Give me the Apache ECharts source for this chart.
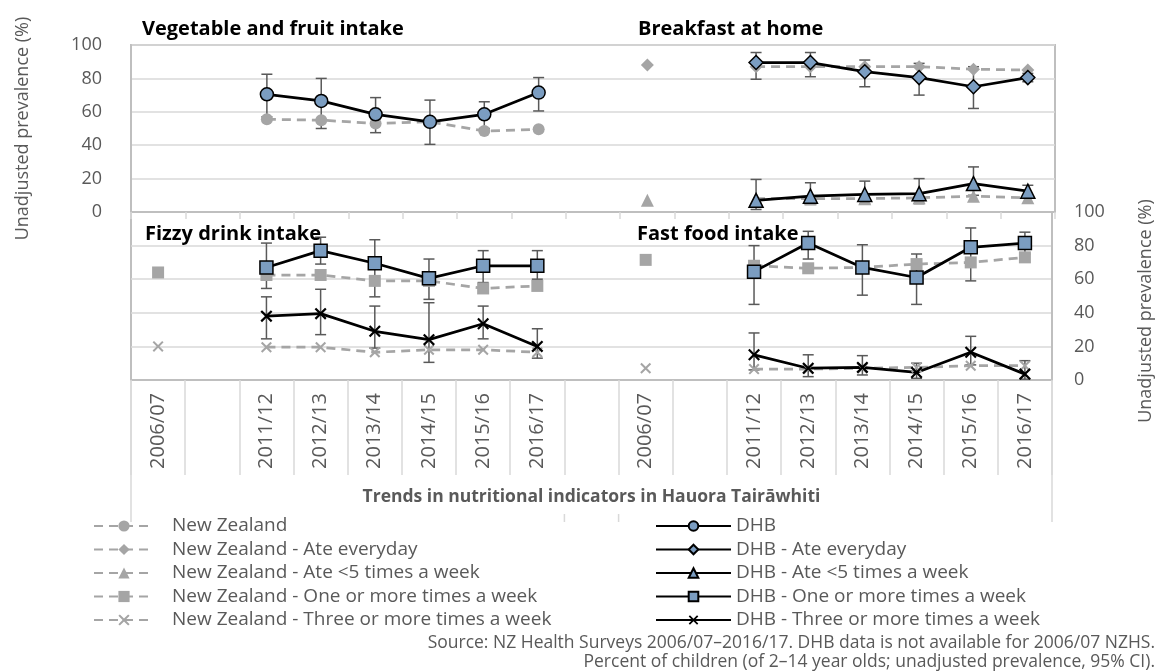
<!DOCTYPE html>
<html><head><meta charset="utf-8">
<script src="https://cdn.jsdelivr.net/npm/echarts@6/dist/echarts.min.js"></script>
<style>html,body{margin:0;padding:0;background:#fff}#c{width:1163px;height:671px}</style>
</head><body><div id="c"></div><script>
// ---- categories (17 slots: left panel, gap, right panel) ----
const categories = ['2006/07','','2011/12','2012/13','2013/14','2014/15','2015/16','2016/17','','2006/07','','2011/12','2012/13','2013/14','2014/15','2015/16','2016/17'];
const yTicks = [0, 20, 40, 60, 80, 100];
// panel values, order: 2006/07, 2011/12, 2012/13, 2013/14, 2014/15, 2015/16, 2016/17
// Vegetable and fruit intake
const vegNZ      = [null, 55.5, 55, 53, 54, 48.5, 49.5];
const vegDHB     = [null, 70.5, 66.5, 58.5, 54, 58.5, 71.5];
const vegDHBLow  = [null, 57, 50, 47.5, 40.5, 50, 60.5];
const vegDHBHigh = [null, 82.5, 80, 68.5, 67, 66, 80.5];
// Breakfast at home
const brkNZEvery      = [88, 87, 87, 87, 87, 85.5, 85];
const brkDHBEvery     = [null, 89.5, 89.5, 84, 80.5, 75, 80.5];
const brkDHBEveryLow  = [null, 79.5, 81, 75, 70, 62, 78];
const brkDHBEveryHigh = [null, 95.5, 95.5, 91, 89, 87, 83];
const brkNZLess5      = [7, 8, 8, 8, 8.5, 9.5, 8.5];
const brkDHBLess5     = [null, 7, 9.5, 10.5, 11, 17, 12.5];
const brkDHBLess5Low  = [null, 1.5, 4.5, 5, 5, 10, 8.5];
const brkDHBLess5High = [null, 19.5, 17.5, 18.5, 20, 27, 16];
// Fizzy drink intake
const fizNZOne       = [64, 62.5, 62.5, 59, 59, 54.5, 56];
const fizDHBOne      = [null, 67, 77, 69.5, 60.5, 68, 68];
const fizDHBOneLow   = [null, 54.5, 69, 49.5, 48, 58, 60];
const fizDHBOneHigh  = [null, 81.5, 85, 83.5, 72, 77, 77];
const fizNZThree     = [20, 19.5, 19.5, 16.5, 18, 18, 16.5];
const fizDHBThree    = [null, 38, 39.5, 29, 24, 33.5, 20];
const fizDHBThreeLow = [null, 24.5, 27, 19, 10.5, 24.5, 13];
const fizDHBThreeHigh= [null, 49.5, 54, 44, 46, 44, 30.5];
// Fast food intake
const fstNZOne       = [71.5, 68, 66.5, 67, 69, 70, 73];
const fstDHBOne      = [null, 64.5, 81.5, 67, 61, 79, 81.5];
const fstDHBOneLow   = [null, 45, 72, 50.5, 45, 59, 75];
const fstDHBOneHigh  = [null, 80, 88.5, 80.5, 75, 90.5, 88];
const fstNZThree     = [7, 6.5, 6.5, 7, 7.5, 8.5, 8.5];
const fstDHBThree    = [null, 15, 7, 7.5, 4.5, 16.5, 3.5];
const fstDHBThreeLow = [null, 6, 2, 3, 1, 9, 0.5];
const fstDHBThreeHigh= [null, 28, 15, 14.5, 10, 26, 11.5];

const leftIdx = [0, 2, 3, 4, 5, 6, 7];
const rightIdx = [9, 11, 12, 13, 14, 15, 16];
function place(l, r) {
  const a = new Array(categories.length).fill(null);
  if (l) l.forEach((v, i) => { a[leftIdx[i]] = v; });
  if (r) r.forEach((v, i) => { a[rightIdx[i]] = v; });
  return a;
}
function errs(lLow, lHigh, rLow, rHigh) {
  const out = [];
  if (lLow) lLow.forEach((v, i) => { if (v != null) out.push([leftIdx[i], v, lHigh[i]]); });
  if (rLow) rLow.forEach((v, i) => { if (v != null) out.push([rightIdx[i], v, rHigh[i]]); });
  return out;
}

const FONT = 'Open Sans';
const GRAY = '#595959';
const NZC = '#a5a5a5';
const DHBFILL = '#7b9dc1';
const XPATH = 'path://M0,1.3 L1.3,0 L5,3.7 L8.7,0 L10,1.3 L6.3,5 L10,8.7 L8.7,10 L5,6.3 L1.3,10 L0,8.7 L3.7,5 Z';

function errSeries(gi, data) {
  return {
    type: 'custom', xAxisIndex: gi, yAxisIndex: gi, data: data, silent: true,
    encode: { x: 0, y: [1, 2] },
    renderItem: function (params, api) {
      const x = api.value(0);
      const lo = api.coord([x, api.value(1)]);
      const hi = api.coord([x, api.value(2)]);
      const cap = 5.5;
      const st = { stroke: GRAY, lineWidth: 1.5 };
      return { type: 'group', children: [
        { type: 'line', shape: { x1: lo[0], y1: lo[1], x2: hi[0], y2: hi[1] }, style: st },
        { type: 'line', shape: { x1: lo[0] - cap, y1: lo[1], x2: lo[0] + cap, y2: lo[1] }, style: st },
        { type: 'line', shape: { x1: hi[0] - cap, y1: hi[1], x2: hi[0] + cap, y2: hi[1] }, style: st }
      ]};
    }
  };
}
function nzSeries(name, gi, data, symbol, size) {
  return {
    name: name, type: 'line', xAxisIndex: gi, yAxisIndex: gi, data: data,
    symbol: symbol, symbolSize: size, showSymbol: true, connectNulls: false,
    lineStyle: { color: NZC, width: 2.75, type: [9, 6] },
    itemStyle: { color: NZC, borderWidth: 0 }
  };
}
function dhbSeries(name, gi, data, symbol, size, isX) {
  return {
    name: name, type: 'line', xAxisIndex: gi, yAxisIndex: gi, data: data,
    symbol: symbol, symbolSize: size, showSymbol: true, connectNulls: false,
    lineStyle: { color: '#000', width: 2.75 },
    itemStyle: isX ? { color: '#000', borderWidth: 0 } : { color: DHBFILL, borderColor: '#000', borderWidth: 1.5 }
  };
}

const series = [
  errSeries(0, errs(vegDHBLow, vegDHBHigh, null, null)),
  errSeries(0, errs(null, null, brkDHBEveryLow, brkDHBEveryHigh)),
  errSeries(0, errs(null, null, brkDHBLess5Low, brkDHBLess5High)),
  errSeries(1, errs(fizDHBOneLow, fizDHBOneHigh, fstDHBOneLow, fstDHBOneHigh)),
  errSeries(1, errs(fizDHBThreeLow, fizDHBThreeHigh, fstDHBThreeLow, fstDHBThreeHigh)),
  nzSeries('New Zealand', 0, place(vegNZ, null), 'circle', 12),
  nzSeries('New Zealand - Ate everyday', 0, place(null, brkNZEvery), 'diamond', 13),
  nzSeries('New Zealand - Ate <5 times a week', 0, place(null, brkNZLess5), 'triangle', 13),
  nzSeries('New Zealand - One or more times a week', 1, place(fizNZOne, fstNZOne), 'rect', 12),
  nzSeries('New Zealand - Three or more times a week', 1, place(fizNZThree, fstNZThree), XPATH, 11),
  dhbSeries('DHB', 0, place(vegDHB, null), 'circle', 13),
  dhbSeries('DHB - Ate everyday', 0, place(null, brkDHBEvery), 'diamond', 14),
  dhbSeries('DHB - Ate <5 times a week', 0, place(null, brkDHBLess5), 'triangle', 14),
  dhbSeries('DHB - One or more times a week', 1, place(fizDHBOne, fstDHBOne), 'rect', 13),
  dhbSeries('DHB - Three or more times a week', 1, place(fizDHBThree, fstDHBThree), XPATH, 12, true)
];

const yCommon = {
  type: 'value', min: yTicks[0], max: yTicks[yTicks.length - 1], interval: 20,
  axisLine: { show: true, lineStyle: { color: '#bfbfbf', width: 2 } },
  axisTick: { show: false },
  splitLine: { lineStyle: { color: '#d9d9d9', width: 1.5 } },
  name: 'Unadjusted prevalence (%)', nameLocation: 'middle',
};
const titleStyle = { fontFamily: FONT, fontSize: 20, fontWeight: 'bold', color: '#000' };
const sourceStyle = { fontFamily: FONT, fontSize: 17.5, fontWeight: 'normal', color: GRAY };
const legendText = { fontFamily: FONT, fontSize: 19, color: GRAY, lineHeight: 20 };

const chart = echarts.init(document.getElementById('c'), null, { renderer: 'canvas' });
chart.setOption({
  animation: false,
  backgroundColor: '#fff',
  textStyle: { fontFamily: FONT },
  title: [
    { text: 'Vegetable and fruit intake', left: 142, top: 19, padding: 0, textStyle: titleStyle },
    { text: 'Breakfast at home', left: 638, top: 19, padding: 0, textStyle: titleStyle },
    { text: 'Fizzy drink intake', left: 145, top: 224, padding: 0, textStyle: titleStyle },
    { text: 'Fast food intake', left: 637, top: 224, padding: 0, textStyle: titleStyle },
    { text: 'Source: NZ Health Surveys 2006/07\u20132016/17. DHB data is not available for 2006/07 NZHS.',
      right: 8, top: 634, padding: 0, textStyle: sourceStyle },
    { text: 'Percent of children (of 2\u201314 year olds; unadjusted prevalence, 95% CI).',
      right: 8, top: 653, padding: 0, textStyle: sourceStyle }
  ],
  grid: [
    { left: 131, right: 108, top: 45, height: 167, show: true, borderColor: '#bfbfbf', borderWidth: 2, containLabel: false },
    { left: 131, right: 108, top: 212, height: 168, show: true, borderColor: '#bfbfbf', borderWidth: 2, containLabel: false }
  ],
  xAxis: [
    { type: 'category', gridIndex: 0, data: categories, boundaryGap: true,
      axisLine: { lineStyle: { color: '#bfbfbf', width: 2 } },
      axisTick: { show: true, interval: 0, length: 7, lineStyle: { color: '#d9d9d9', width: 1.5 } },
      axisLabel: { show: false }, splitLine: { show: false } },
    { type: 'category', gridIndex: 1, data: categories, boundaryGap: true,
      axisLine: { lineStyle: { color: '#bfbfbf', width: 2 } },
      axisTick: { show: true, interval: 0, length: 95, lineStyle: { color: '#d9d9d9', width: 1.5 } },
      axisLabel: { show: true, interval: 0, rotate: 90, margin: 13, fontSize: 20, color: GRAY, fontFamily: FONT },
      splitLine: { show: false } }
  ],
  yAxis: [
    Object.assign({}, yCommon, { gridIndex: 0, position: 'left', nameGap: 99,
      nameTextStyle: { fontFamily: FONT, fontSize: 18, color: GRAY },
      axisLabel: { margin: 29, fontSize: 18, color: GRAY, fontFamily: FONT } }),
    Object.assign({}, yCommon, { gridIndex: 1, position: 'right', nameGap: 85,
      nameTextStyle: { fontFamily: FONT, fontSize: 18, color: GRAY, padding: [0, 30, 0, 0] },
      axisLabel: { margin: 22, fontSize: 18, color: GRAY, fontFamily: FONT } })
  ],
  legend: [
    { orient: 'vertical', left: 93, top: 516, padding: 0, itemWidth: 60, itemHeight: 14, itemGap: 3.5,
      data: ['New Zealand', 'New Zealand - Ate everyday', 'New Zealand - Ate <5 times a week', 'New Zealand - One or more times a week', 'New Zealand - Three or more times a week'],
      textStyle: Object.assign({ padding: [0, 0, 0, 13] }, legendText), selectedMode: false },
    { orient: 'vertical', left: 655, top: 516, padding: 0, itemWidth: 75, itemHeight: 12, itemGap: 3.5,
      data: ['DHB', 'DHB - Ate everyday', 'DHB - Ate <5 times a week', 'DHB - One or more times a week', 'DHB - Three or more times a week'],
      textStyle: legendText, selectedMode: false }
  ],
  series: series
});

// decorative frame extensions of the category axis (computed from the axis scale)
const c0 = chart.convertToPixel({ xAxisIndex: 1 }, 0);
const c1 = chart.convertToPixel({ xAxisIndex: 1 }, 1);
const band = c1 - c0;
const leftEdge = c0 - band / 2;
const rightEdge = chart.convertToPixel({ xAxisIndex: 1 }, categories.length - 1) + band / 2;
const yBase = chart.convertToPixel({ yAxisIndex: 1 }, 0);
const c8 = chart.convertToPixel({ xAxisIndex: 1 }, 8);
const lineSt = { stroke: '#d9d9d9', lineWidth: 1.5 };
chart.setOption({
  graphic: [
    { type: 'line', shape: { x1: leftEdge, y1: yBase, x2: leftEdge, y2: yBase + 142 }, style: lineSt },
    { type: 'line', shape: { x1: rightEdge, y1: yBase, x2: rightEdge, y2: yBase + 142 }, style: lineSt },
    { type: 'line', shape: { x1: c8 - band / 2, y1: yBase + 134, x2: c8 - band / 2, y2: yBase + 142 }, style: lineSt },
    { type: 'line', shape: { x1: c8 + band / 2, y1: yBase + 134, x2: c8 + band / 2, y2: yBase + 142 }, style: lineSt },
    { type: 'text', x: c8, y: yBase + 117, style: { text: 'Trends in nutritional indicators in Hauora Tair\u0101whiti',
      fill: GRAY, font: 'bold 17.5px "Open Sans"', textAlign: 'center', textVerticalAlign: 'middle' } }
  ]
});
</script></body></html>
